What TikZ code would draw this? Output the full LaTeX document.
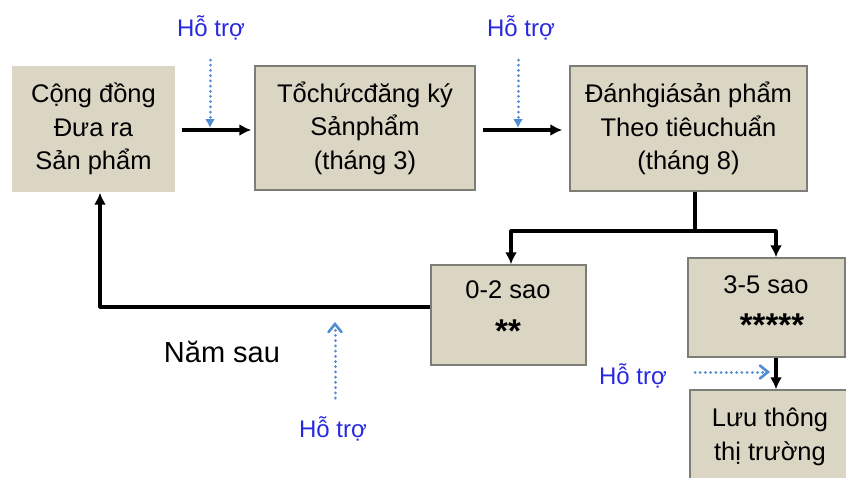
\documentclass[tikz,border=0pt]{standalone}
\usepackage{fontspec}
\setmainfont{Liberation Sans}
\usetikzlibrary{arrows.meta}
\definecolor{boxfill}{RGB}{219,214,196}
\definecolor{boxline}{RGB}{125,125,120}
\definecolor{helpblue}{RGB}{40,40,225}
\definecolor{dotblue}{RGB}{80,140,210}
\begin{document}
\begin{tikzpicture}[x=1pt,y=-1pt,
  stagebox/.style={fill=boxfill,draw=boxline,line width=1.4pt,align=center,
    inner sep=0pt,font=\fontsize{25.5}{33.5}\selectfont},
  boxtext/.style={align=center,inner sep=0pt,font=\fontsize{25.5}{33.5}\selectfont},
  stars/.style={inner sep=0pt,font=\fontsize{33}{33}\selectfont\bfseries},
  flow/.style={line width=3.2pt,line join=round,-{Latex[length=12pt,width=12pt]}},
  plainline/.style={line width=3.2pt},
  dots/.style={dotblue,line width=3pt,line cap=round,dash pattern=on 0.01pt off 5.2pt},
  helpdown/.style={dots,-{Latex[length=9pt,width=10pt,line cap=butt]}},
  helpopen/.style={dots,-{Straight Barb[length=8pt,width=13pt,line width=2.6pt,line cap=round]}},
  helpnote/.style={text=helpblue,font=\fontsize{24}{28}\selectfont},
  plaintext/.style={font=\fontsize{29}{33}\selectfont}]
\useasboundingbox (0,0) rectangle (846,477);
\clip (0,0) rectangle (846,477);

% stages
\node[stagebox,draw=none,minimum width=163pt,minimum height=126pt] (com) at (93.5,129)
  {\rule{0pt}{2pt}Cộng đồng\\Đưa ra\\Sản phẩm};
\node[stagebox,minimum width=220pt,minimum height=124pt] (reg) at (365,128)
  {\rule{0pt}{2pt}Tổchứcđăng ký\\Sảnphẩm\\(tháng 3)};
\node[stagebox,minimum width=237pt,minimum height=125pt] (eval) at (688.5,128.5)
  {\rule{0pt}{2pt}Đánhgiásản phẩm\\Theo tiêuchuẩn\\(tháng 8)};
\node[stagebox,minimum width=155pt,minimum height=100pt] (low) at (508.5,315) {};
\node[stagebox,minimum width=157pt,minimum height=99pt] (high) at (766.5,307.5) {};
\node[stagebox,minimum width=160pt,minimum height=94pt] (market) at (770,437)
  {Lưu thông\\thị trường};

% ratings
\node[boxtext] (lowtitle) at (508,290) {0-2 sao};
\node[stars] (lowstars) at (508,331) {**};
\node[boxtext] (hightitle) at (766,285) {3-5 sao};
\node[stars] (highstars) at (772,325) {*****};

% labels
\node[helpnote] (h1) at (211,28) {Hỗ trợ};
\node[helpnote] (h2) at (521,28) {Hỗ trợ};
\node[helpnote] (h3) at (333,429) {Hỗ trợ};
\node[helpnote] (h4) at (633,376) {Hỗ trợ};
\node[plaintext] (next) at (222,352) {Năm sau};

% main flow
\draw[flow,shorten <=6pt,shorten >=3pt] (com.east |- 0,130) -- (reg.west |- 0,130);
\draw[flow,shorten <=7pt,shorten >=7pt] (reg.east |- 0,130) -- (eval.west |- 0,130);
\coordinate (split) at (695,231);
\draw[plainline] (eval.south -| split) -- (split);
\draw[flow] (split) -| (low.north -| 511,0);
\draw[flow] (split) -| (high.north -| 776,0);
\draw[flow] (low.west |- 0,307) -| (com.south -| 100,0);
\draw[flow] (high.south -| 776,0) -- (market.north -| 776,0);

% support inputs
\coordinate (s1) at (210,60);
\coordinate (s2) at (518,60);
\coordinate (s3) at (335,398);
\coordinate (s4) at (695,372);
\draw[helpdown] (s1) -- (210,128);
\draw[helpdown] (s2) -- (518,128);
\draw[helpopen] (s3) -- (335,322);
\draw[helpopen] (s4) -- (770,372);
\end{tikzpicture}
\end{document}
